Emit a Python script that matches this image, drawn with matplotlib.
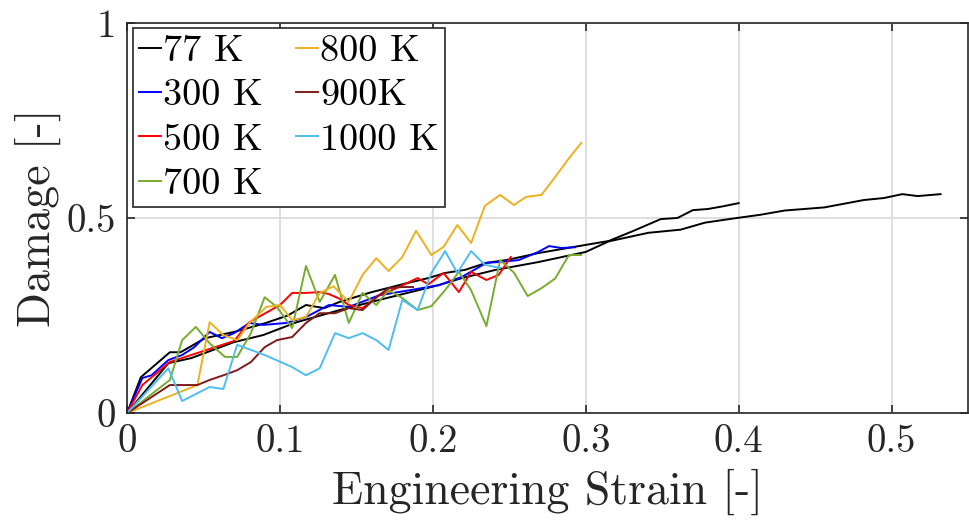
import numpy as np
import matplotlib
matplotlib.use('Agg')
import matplotlib.pyplot as plt

# serif LaTeX-like look
plt.rcParams['font.family'] = 'serif'
plt.rcParams['font.serif'] = ['cmr10']
plt.rcParams['mathtext.fontset'] = 'cm'
plt.rcParams['axes.formatter.use_mathtext'] = True

# data
x_77a = [0, 0.009, 0.028, 0.035, 0.051, 0.07, 0.09, 0.105, 0.117, 0.129, 0.139, 0.16, 0.18,
         0.197, 0.208, 0.221, 0.235, 0.248, 0.269, 0.3, 0.315, 0.33, 0.349, 0.36, 0.37,
         0.38, 0.39, 0.4]
y_77a = [0, 0.092, 0.156, 0.156, 0.192, 0.208, 0.23, 0.25, 0.277, 0.269, 0.285, 0.31, 0.33,
         0.346, 0.359, 0.367, 0.385, 0.392, 0.41, 0.431, 0.441, 0.465, 0.497, 0.50, 0.52,
         0.523, 0.53, 0.538]

x_77b = [0, 0.027, 0.042, 0.07, 0.089, 0.111, 0.139, 0.17, 0.204, 0.219, 0.241, 0.269, 0.3,
         0.315, 0.341, 0.362, 0.378, 0.399, 0.414, 0.43, 0.456, 0.482, 0.495, 0.507, 0.517,
         0.532]
y_77b = [0, 0.128, 0.141, 0.182, 0.2, 0.233, 0.264, 0.295, 0.328, 0.346, 0.367, 0.387, 0.413,
         0.44, 0.462, 0.47, 0.488, 0.50, 0.508, 0.519, 0.527, 0.546, 0.551, 0.561, 0.556,
         0.561]

x_300 = [0, 0.01, 0.016, 0.027, 0.036, 0.044, 0.054, 0.062, 0.07, 0.08, 0.089, 0.104, 0.117,
         0.132, 0.145, 0.165, 0.185, 0.204, 0.219, 0.235, 0.243, 0.256, 0.269, 0.276, 0.284,
         0.293]
y_300 = [0, 0.09, 0.097, 0.136, 0.149, 0.169, 0.208, 0.192, 0.205, 0.231, 0.226, 0.231, 0.246,
         0.277, 0.272, 0.302, 0.315, 0.328, 0.349, 0.385, 0.387, 0.392, 0.413, 0.428, 0.423,
         0.425]

x_500 = [0, 0.01, 0.028, 0.042, 0.07, 0.08, 0.1, 0.108, 0.117, 0.126, 0.132, 0.139, 0.145,
         0.154, 0.165, 0.176, 0.19, 0.197, 0.207, 0.217, 0.225, 0.235, 0.243, 0.251]
y_500 = [0, 0.072, 0.131, 0.149, 0.185, 0.233, 0.277, 0.308, 0.308, 0.31, 0.305, 0.293, 0.277,
         0.269, 0.302, 0.32, 0.346, 0.33, 0.359, 0.31, 0.362, 0.341, 0.354, 0.4]

x_700 = [0, 0.028, 0.036, 0.045, 0.054, 0.064, 0.072, 0.081, 0.09, 0.098, 0.108, 0.117, 0.126,
         0.136, 0.145, 0.154, 0.163, 0.171, 0.18, 0.19, 0.199, 0.208, 0.217, 0.225, 0.235,
         0.244, 0.253, 0.262, 0.271, 0.28, 0.289, 0.297]
y_700 = [0, 0.085, 0.187, 0.221, 0.179, 0.144, 0.144, 0.205, 0.297, 0.272, 0.218, 0.377, 0.285,
         0.354, 0.231, 0.308, 0.277, 0.315, 0.295, 0.264, 0.274, 0.315, 0.362, 0.315, 0.223,
         0.392, 0.36, 0.30, 0.32, 0.345, 0.405, 0.405]

x_800 = [0, 0.046, 0.054, 0.063, 0.072, 0.08, 0.091, 0.1, 0.108, 0.117, 0.126, 0.135, 0.145,
         0.154, 0.163, 0.171, 0.18, 0.189, 0.199, 0.207, 0.216, 0.225, 0.234, 0.244, 0.253,
         0.261, 0.271, 0.28, 0.289, 0.297]
y_800 = [0, 0.072, 0.233, 0.2, 0.187, 0.231, 0.272, 0.277, 0.238, 0.246, 0.308, 0.325, 0.285,
         0.354, 0.397, 0.364, 0.4, 0.467, 0.405, 0.426, 0.482, 0.436, 0.531, 0.559, 0.533,
         0.554, 0.559, 0.605, 0.653, 0.692]

x_900 = [0, 0.028, 0.046, 0.054, 0.063, 0.072, 0.081, 0.09, 0.098, 0.108, 0.117, 0.126, 0.136,
         0.145, 0.154, 0.163, 0.171, 0.18, 0.187]
y_900 = [0, 0.072, 0.072, 0.085, 0.097, 0.11, 0.131, 0.169, 0.187, 0.195, 0.231, 0.256, 0.256,
         0.269, 0.264, 0.297, 0.32, 0.323, 0.323]

x_1000 = [0, 0.027, 0.036, 0.054, 0.063, 0.072, 0.09, 0.108, 0.117, 0.126, 0.136, 0.145, 0.154,
          0.163, 0.171, 0.18, 0.19, 0.199, 0.208, 0.216, 0.225, 0.234, 0.244]
y_1000 = [0, 0.115, 0.031, 0.067, 0.062, 0.175, 0.149, 0.118, 0.097, 0.115, 0.205, 0.192, 0.205,
          0.187, 0.162, 0.29, 0.264, 0.359, 0.415, 0.359, 0.415, 0.38, 0.372]

x_ticks = [0, 0.1, 0.2, 0.3, 0.4, 0.5]
x_ticklabels = ['0', '0.1', '0.2', '0.3', '0.4', '0.5']
y_ticks = [0, 0.5, 1]
y_ticklabels = ['0', '0.5', '1']

fig = plt.figure(figsize=(9.7, 5.29), dpi=100)
ax = fig.add_axes([0.131, 0.219, 0.867, 0.738])

lw = 1.4
ax.plot(x_77a, y_77a, color='k', lw=lw, label='77 K')
ax.plot(x_77b, y_77b, color='k', lw=lw, label='_nolegend_')
ax.plot(x_300, y_300, color='b', lw=lw, label='300 K')
ax.plot(x_500, y_500, color='r', lw=lw, label='500 K')
ax.plot(x_700, y_700, color=(0.466, 0.674, 0.188), lw=lw, label='700 K')
ax.plot(x_800, y_800, color=(0.929, 0.694, 0.125), lw=lw, label='800 K')
ax.plot(x_900, y_900, color=(0.5, 0.1, 0.1), lw=lw, label='900K')
ax.plot(x_1000, y_1000, color=(0.301, 0.745, 0.933), lw=lw, label='1000 K')

ax.set_xlim(0, 0.55)
ax.set_ylim(0, 1)
ax.set_xticks(x_ticks)
ax.set_xticklabels(x_ticklabels)
ax.set_yticks(y_ticks)
ax.set_yticklabels(y_ticklabels)
ax.grid(True, color='#dedede', lw=1.4)
ax.set_axisbelow(True)
for s in ax.spines.values():
    s.set_color('#262626')
    s.set_linewidth(1.2)
ax.tick_params(direction='in', top=True, right=True, length=6, width=1.2,
               colors='#262626', labelsize=28, pad=8)

ax.set_xlabel('Engineering Strain [-]', fontsize=33, color='#262626', labelpad=6)
ax.set_ylabel('Damage [-]', fontsize=33, color='#262626', labelpad=4)

leg = ax.legend(loc='upper left', ncol=2, fontsize=27.5, handlelength=0.6,
                handletextpad=0.05, columnspacing=0.85, labelspacing=0.28,
                borderpad=0.15, borderaxespad=0.15, fancybox=False, framealpha=1)
leg.get_frame().set_edgecolor('#262626')
leg.get_frame().set_linewidth(1.2)

fig.savefig('out.png', dpi=100)
